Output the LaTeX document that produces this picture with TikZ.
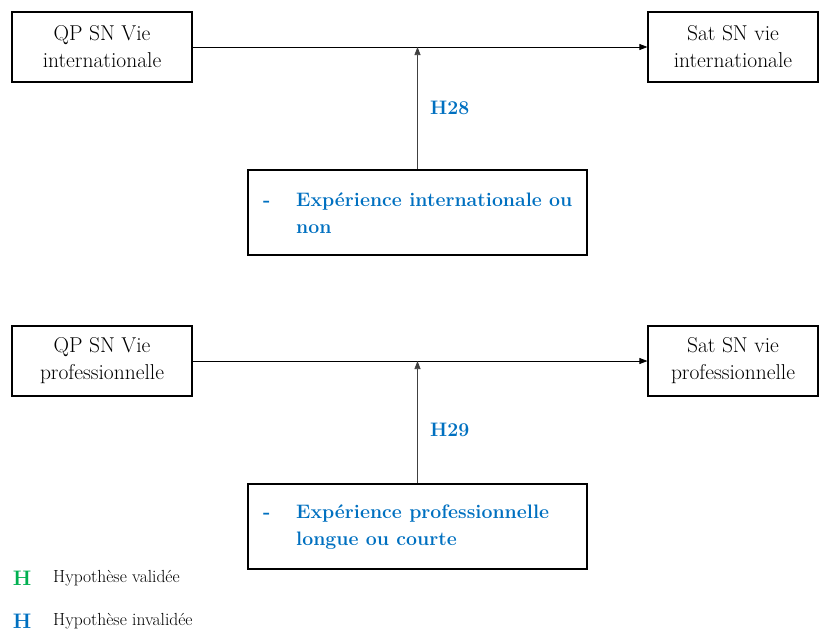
\documentclass[tikz,border=0pt]{standalone}
\usetikzlibrary{arrows.meta}
\definecolor{hblue}{RGB}{0,112,192}
\definecolor{hgreen}{RGB}{0,176,80}
\tikzset{
  varbox/.style={draw=black, line width=1.2pt, rectangle, minimum height=70pt, align=center, font=\fontsize{21.5}{27}\selectfont, inner sep=0pt},
  modbox/.style={draw=black, line width=1.2pt, rectangle, minimum width=339pt, minimum height=85pt, inner sep=0pt},
  modtext/.style={anchor=west, align=left, inner sep=0pt, text=hblue, font=\fontsize{19.5}{27}\selectfont\bfseries},
  arr/.style={line width=0.7pt, -{Triangle[length=8pt,width=6pt]}},
  hlab/.style={text=hblue, font=\fontsize{19.5}{24}\selectfont\bfseries, anchor=west, inner sep=0pt},
  legH/.style={font=\fontsize{21}{24}\selectfont\bfseries, inner sep=0pt},
  legtext/.style={font=\fontsize{17.5}{20}\selectfont, anchor=west, inner sep=0pt}
}
\begin{document}
\begin{tikzpicture}[x=1pt,y=-1pt]
\useasboundingbox (0,0) rectangle (819,633);
% first model
\node[varbox, minimum width=180pt] (A1) at (102,47) {QP SN Vie\\internationale};
\node[varbox, minimum width=170pt] (B1) at (733,47) {Sat SN vie\\internationale};
\node[modbox] (M1) at (417.5,212.5) {};
\node[modtext] (T1) at (263,213.5) {\makebox[33pt][l]{-}\parbox[t]{290pt}{\raggedright Expérience internationale ou\\non}};
\draw[arr] (A1.east) -- (B1.west);
\draw[arr, draw=black!75] (M1.north) -- (M1.north |- A1.east);
\node[hlab] (H28) at (430,108) {H28};
% second model
\node[varbox, minimum width=180pt] (A2) at (102,361) {QP SN Vie\\professionnelle};
\node[varbox, minimum width=170pt] (B2) at (733,361) {Sat SN vie\\professionnelle};
\node[modbox] (M2) at (417.5,526.5) {};
\node[modtext] (T2) at (263,527.5) {\makebox[33pt][l]{-}\parbox[t]{290pt}{\raggedright Expérience professionnelle\\longue ou courte}};
\draw[arr] (A2.east) -- (B2.west);
\draw[arr, draw=black!75] (M2.north) -- (M2.north |- A2.east);
\node[hlab] (H29) at (430,430) {H29};
% legend
\node[legH, text=hgreen] (LG) at (22,578) {H};
\node[legtext] (LGt) at (53,578) {Hypothèse validée};
\node[legH, text=hblue] (LB) at (22,621) {H};
\node[legtext] (LBt) at (53,621) {Hypothèse invalidée};
\end{tikzpicture}
\end{document}
